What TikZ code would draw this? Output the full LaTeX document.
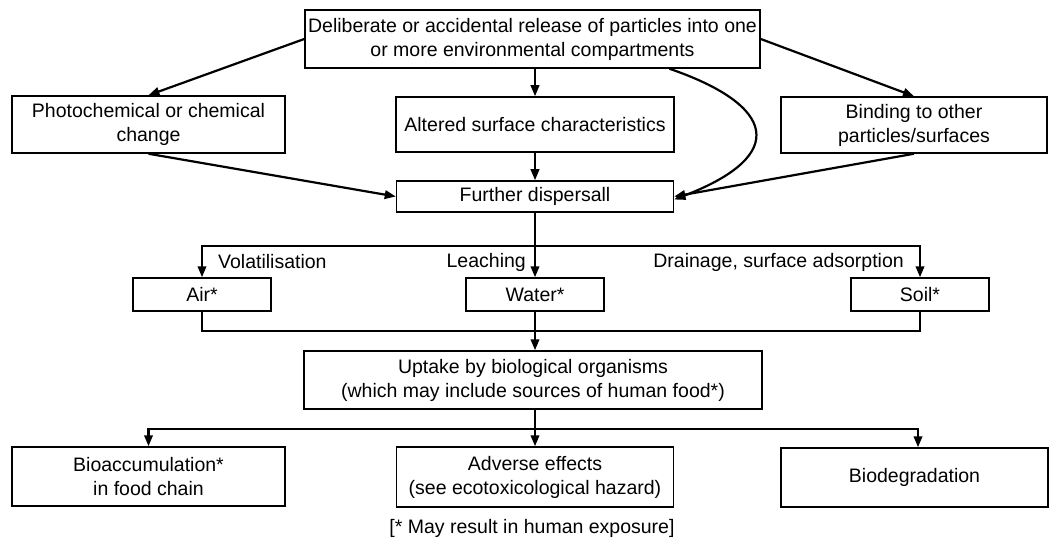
\documentclass[tikz,border=0pt]{standalone}
\usepackage{fontspec}
\setmainfont{Liberation Sans}
\usetikzlibrary{arrows.meta}
\begin{document}
\begin{tikzpicture}[x=1pt,y=-1pt,
  box/.style={draw,line width=1.5pt,inner sep=0pt,align=center,
    font=\fontsize{19.5}{24}\selectfont},
  conn/.style={line width=2.2pt},
  arr/.style={line width=2.2pt,-{Triangle[length=11pt,width=8.5pt]}},
  lbl/.style={inner sep=0pt,font=\fontsize{19.5}{24}\selectfont}]
\useasboundingbox[fill=white] (0,0) rectangle (1051,548);

\node[box,minimum width=455pt,minimum height=58pt] (top) at (532.5,39)
  {Deliberate or accidental release of particles into one\\or more environmental compartments};
\node[box,minimum width=273pt,minimum height=57pt] (photo) at (148.5,124.5)
  {Photochemical or chemical\\change};
\node[box,minimum width=278pt,minimum height=55pt] (altered) at (535,124.5)
  {Altered surface characteristics};
\node[box,minimum width=266pt,minimum height=56pt] (binding) at (914,125)
  {Binding to other\\particles/surfaces};
\node[box,minimum width=277pt,minimum height=31pt] (further) at (535,196.5)
  {Further dispersall};

\node[box,minimum width=138pt,minimum height=33pt] (air) at (202,294.5) {Air*};
\node[box,minimum width=138pt,minimum height=33pt] (water) at (535,294.5) {Water*};
\node[box,minimum width=138pt,minimum height=33pt] (soil) at (920,294.5) {Soil*};

\node[lbl,anchor=west] (lvol) at (218,262) {Volatilisation};
\node[lbl,anchor=east] (lleach) at (526,262) {Leaching};
\node[lbl,anchor=east] (ldrain) at (904,262) {Drainage, surface adsorption};

\node[box,minimum width=458pt,minimum height=58pt] (uptake) at (533,380)
  {Uptake by biological organisms\\(which may include sources of human food*)};

\node[box,minimum width=273pt,minimum height=59pt] (bio) at (148.5,476.5)
  {Bioaccumulation*\\in food chain};
\node[box,minimum width=277pt,minimum height=60pt] (adverse) at (535,477)
  {Adverse effects\\(see ecotoxicological hazard)};
\node[box,minimum width=267pt,minimum height=59pt] (biodeg) at (914.5,477.5)
  {Biodegradation};

\node[lbl] (foot) at (532,528) {[* May result in human exposure]};

\coordinate (split) at (535,246);
\coordinate (join) at (535,331);
\coordinate (split2) at (535,429);

% top level arrows
\draw[arr] (top.west) -- (photo.north);
\draw[arr] (top.east) -- (binding.north);
\draw[arr] (altered.north |- top.south) -- (altered.north);
\draw[arr] ([xshift=137pt]top.south) .. controls (775,105) and (790,155) .. ([yshift=-3pt]further.east);
\draw[arr] (altered.south) -- (further.north);
\draw[arr] (photo.south) -- (further.west);
\draw[arr] (binding.south) -- (further.east);

% compartments
\draw[arr] (further.south) -- (water.north);
\draw[arr] (split) -| (air.north);
\draw[arr] (split) -| (soil.north);
\draw[conn] (air.south) |- (join) -| (soil.south);
\draw[arr] (water.south) -- (water.south |- uptake.north);

% effects
\draw[conn] (split2 |- uptake.south) -- (split2);
\draw[arr] (split2) -| (bio.north);
\draw[arr] (split2) -- (adverse.north);
\draw[arr] (split2) -| ([xshift=3.5pt]biodeg.north);
\end{tikzpicture}
\end{document}
